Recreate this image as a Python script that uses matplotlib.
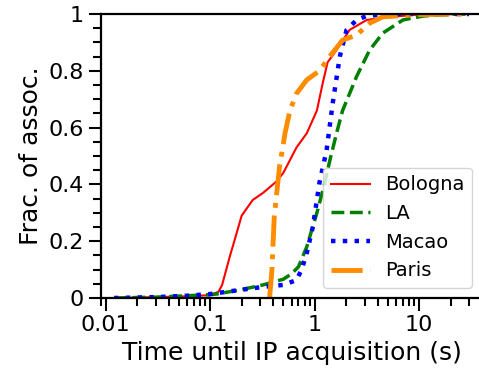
import numpy as np
import matplotlib
matplotlib.use("Agg")
import matplotlib.pyplot as plt
from matplotlib.ticker import FuncFormatter, MultipleLocator, LogLocator

# CDF points (time in s, fraction of associations)
bologna_t = [0.012, 0.03, 0.06, 0.1, 0.12, 0.13, 0.14, 0.155, 0.17, 0.2, 0.255, 0.32,
             0.43, 0.5, 0.67, 0.84, 1.05, 1.2, 1.33, 1.62, 2.16, 3.15, 5.2, 10, 30]
bologna_f = [0, 0.003, 0.006, 0.01, 0.022, 0.046, 0.09, 0.15, 0.2, 0.29, 0.345, 0.37,
             0.41, 0.44, 0.53, 0.58, 0.66, 0.76, 0.83, 0.873, 0.944, 0.979, 0.99, 0.998, 1.0]

la_t = [0.012, 0.03, 0.06, 0.1, 0.115, 0.19, 0.32, 0.5, 0.6, 0.7, 0.84, 1.05, 1.25,
        1.4, 1.62, 1.85, 2.16, 2.52, 3.36, 4.5, 7, 11, 20, 30]
la_f = [0, 0.003, 0.008, 0.012, 0.014, 0.028, 0.046, 0.066, 0.085, 0.11, 0.18, 0.3, 0.405,
        0.486, 0.58, 0.66, 0.72, 0.78, 0.873, 0.933, 0.979, 0.993, 0.999, 1.0]

macao_t = [0.012, 0.03, 0.06, 0.1, 0.19, 0.32, 0.5, 0.67, 0.75, 0.84, 0.96, 1.11, 1.3,
           1.49, 1.74, 2.02, 2.52, 3.15, 5, 30]
macao_f = [0, 0.003, 0.008, 0.014, 0.028, 0.039, 0.046, 0.063, 0.1, 0.158, 0.25, 0.405, 0.52,
           0.687, 0.85, 0.944, 0.979, 0.993, 1.0, 1.0]

paris_t = [0.37, 0.39, 0.41, 0.46, 0.52, 0.58, 0.67, 0.84, 1.11, 1.39, 1.85, 2.52, 3.36,
           4.5, 10, 30]
paris_f = [0, 0.1, 0.285, 0.46, 0.58, 0.66, 0.72, 0.768, 0.80, 0.85, 0.908, 0.926, 0.968,
           0.99, 0.998, 1.0]

fig = plt.figure(figsize=(4.79, 3.70), dpi=100)
ax = fig.add_axes([101 / 479, 72 / 370, 381 / 479, 284 / 370])

ax.plot(bologna_t, bologna_f, color="red", lw=1.5, ls="-", label="Bologna")
ax.plot(la_t, la_f, color="green", lw=2.5, ls="--", label="LA")
ax.plot(macao_t, macao_f, color="blue", lw=3.2, ls=":", label="Macao")
ax.plot(paris_t, paris_f, color="darkorange", lw=3.5, ls="-.", label="Paris")

ax.set_xscale("log")
ax.set_xlim(0.009, 40)
ax.set_ylim(0, 1)

ax.yaxis.set_major_locator(MultipleLocator(0.2))
ax.yaxis.set_minor_locator(MultipleLocator(0.05))
ax.xaxis.set_major_locator(LogLocator(base=10))
ax.xaxis.set_minor_locator(LogLocator(base=10, subs=np.arange(2, 10)))
fmt = FuncFormatter(lambda v, p: "%g" % v)
ax.xaxis.set_major_formatter(fmt)
ax.yaxis.set_major_formatter(fmt)

ax.tick_params(which="major", length=9, width=1.5, labelsize=16)
ax.tick_params(which="minor", length=6, width=1.5)
for s in ax.spines.values():
    s.set_linewidth(1.6)

ax.set_xlabel("Time until IP acquisition (s)", fontsize=18)
ax.set_ylabel("Frac. of assoc.", fontsize=18)
ax.legend(loc="lower right", fontsize=14)

fig.savefig("out.png", dpi=100)
